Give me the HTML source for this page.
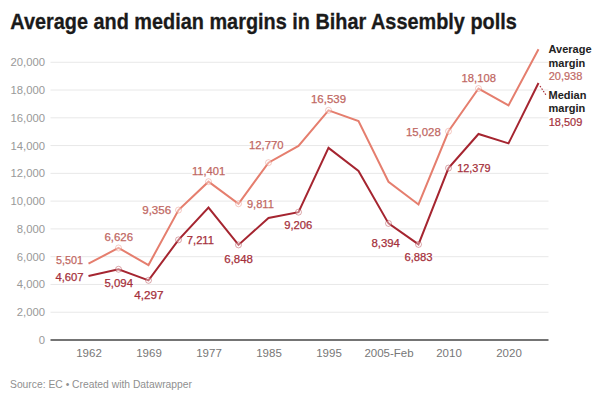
<!DOCTYPE html>
<html><head><meta charset="utf-8">
<style>
html,body{margin:0;padding:0;background:#fff;}
body{width:600px;height:401px;position:relative;overflow:hidden;}
svg{position:absolute;left:0;top:0;font-family:"Liberation Sans",sans-serif;}
.vl{paint-order:stroke;stroke:#fff;stroke-width:2px;stroke-linejoin:round;}
</style></head><body>
<svg width="600" height="401" viewBox="0 0 600 401">
<text x="10.3" y="28.7" font-size="21.5" font-weight="bold" fill="#1a1a1a" stroke="#1a1a1a" stroke-width="0.3" textLength="506.5" lengthAdjust="spacingAndGlyphs">Average and median margins in Bihar Assembly polls</text>
<line x1="50.5" x2="548.5" y1="312.23" y2="312.23" stroke="#e8e8e8" stroke-width="1"/>
<line x1="50.5" x2="548.5" y1="284.45" y2="284.45" stroke="#e8e8e8" stroke-width="1"/>
<line x1="50.5" x2="548.5" y1="256.68" y2="256.68" stroke="#e8e8e8" stroke-width="1"/>
<line x1="50.5" x2="548.5" y1="228.90" y2="228.90" stroke="#e8e8e8" stroke-width="1"/>
<line x1="50.5" x2="548.5" y1="201.12" y2="201.12" stroke="#e8e8e8" stroke-width="1"/>
<line x1="50.5" x2="548.5" y1="173.35" y2="173.35" stroke="#e8e8e8" stroke-width="1"/>
<line x1="50.5" x2="548.5" y1="145.57" y2="145.57" stroke="#e8e8e8" stroke-width="1"/>
<line x1="50.5" x2="548.5" y1="117.80" y2="117.80" stroke="#e8e8e8" stroke-width="1"/>
<line x1="50.5" x2="548.5" y1="90.02" y2="90.02" stroke="#e8e8e8" stroke-width="1"/>
<line x1="50.5" x2="548.5" y1="62.25" y2="62.25" stroke="#e8e8e8" stroke-width="1"/>
<text x="45" y="344.00" text-anchor="end" fill="#999" font-size="11.3">0</text>
<text x="45" y="316.23" text-anchor="end" fill="#999" font-size="11.3">2,000</text>
<text x="45" y="288.45" text-anchor="end" fill="#999" font-size="11.3">4,000</text>
<text x="45" y="260.68" text-anchor="end" fill="#999" font-size="11.3">6,000</text>
<text x="45" y="232.90" text-anchor="end" fill="#999" font-size="11.3">8,000</text>
<text x="45" y="205.12" text-anchor="end" fill="#999" font-size="11.3">10,000</text>
<text x="45" y="177.35" text-anchor="end" fill="#999" font-size="11.3">12,000</text>
<text x="45" y="149.57" text-anchor="end" fill="#999" font-size="11.3">14,000</text>
<text x="45" y="121.80" text-anchor="end" fill="#999" font-size="11.3">16,000</text>
<text x="45" y="94.02" text-anchor="end" fill="#999" font-size="11.3">18,000</text>
<text x="45" y="66.25" text-anchor="end" fill="#999" font-size="11.3">20,000</text>
<line x1="50.5" x2="548.5" y1="340" y2="340" stroke="#747474" stroke-width="2"/>
<text x="89.00" y="356.6" text-anchor="middle" fill="#777" font-size="11.5">1962</text>
<text x="149.00" y="356.6" text-anchor="middle" fill="#777" font-size="11.5">1969</text>
<text x="209.00" y="356.6" text-anchor="middle" fill="#777" font-size="11.5">1977</text>
<text x="269.00" y="356.6" text-anchor="middle" fill="#777" font-size="11.5">1985</text>
<text x="329.00" y="356.6" text-anchor="middle" fill="#777" font-size="11.5">1995</text>
<text x="389.00" y="356.6" text-anchor="middle" fill="#777" font-size="11.5">2005-Feb</text>
<text x="449.00" y="356.6" text-anchor="middle" fill="#777" font-size="11.5">2010</text>
<text x="509.00" y="356.6" text-anchor="middle" fill="#777" font-size="11.5">2020</text>
<polyline points="88.50,263.60 118.50,247.98 148.50,265.01 178.50,210.07 208.50,181.67 238.50,203.75 268.50,162.66 298.50,145.99 328.50,110.31 358.50,121.11 388.50,181.81 418.50,204.50 448.50,131.30 478.50,88.53 508.50,105.40 538.50,49.22" fill="none" stroke="#e57e6e" stroke-width="2" stroke-linejoin="miter"/>
<polyline points="88.50,276.02 118.50,269.26 148.50,280.33 178.50,239.86 208.50,207.65 238.50,244.90 268.50,218.00 298.50,212.15 328.50,147.89 358.50,171.00 388.50,223.43 418.50,244.41 448.50,168.09 478.50,134.01 508.50,143.39 538.50,82.96" fill="none" stroke="#a52530" stroke-width="2" stroke-linejoin="miter"/>
<circle cx="118.50" cy="247.98" r="3" fill="#fff" fill-opacity="0.35" stroke="#e57e6e" stroke-width="1" stroke-opacity="0.4"/>
<circle cx="178.50" cy="210.07" r="3" fill="#fff" fill-opacity="0.35" stroke="#e57e6e" stroke-width="1" stroke-opacity="0.4"/>
<circle cx="208.50" cy="181.67" r="3" fill="#fff" fill-opacity="0.35" stroke="#e57e6e" stroke-width="1" stroke-opacity="0.4"/>
<circle cx="238.50" cy="203.75" r="3" fill="#fff" fill-opacity="0.35" stroke="#e57e6e" stroke-width="1" stroke-opacity="0.4"/>
<circle cx="268.50" cy="162.66" r="3" fill="#fff" fill-opacity="0.35" stroke="#e57e6e" stroke-width="1" stroke-opacity="0.4"/>
<circle cx="328.50" cy="110.31" r="3" fill="#fff" fill-opacity="0.35" stroke="#e57e6e" stroke-width="1" stroke-opacity="0.4"/>
<circle cx="448.50" cy="131.30" r="3" fill="#fff" fill-opacity="0.35" stroke="#e57e6e" stroke-width="1" stroke-opacity="0.4"/>
<circle cx="478.50" cy="88.53" r="3" fill="#fff" fill-opacity="0.35" stroke="#e57e6e" stroke-width="1" stroke-opacity="0.4"/>
<circle cx="118.50" cy="269.26" r="3" fill="#fff" fill-opacity="0.35" stroke="#a52530" stroke-width="1" stroke-opacity="0.4"/>
<circle cx="148.50" cy="280.33" r="3" fill="#fff" fill-opacity="0.35" stroke="#a52530" stroke-width="1" stroke-opacity="0.4"/>
<circle cx="178.50" cy="239.86" r="3" fill="#fff" fill-opacity="0.35" stroke="#a52530" stroke-width="1" stroke-opacity="0.4"/>
<circle cx="238.50" cy="244.90" r="3" fill="#fff" fill-opacity="0.35" stroke="#a52530" stroke-width="1" stroke-opacity="0.4"/>
<circle cx="298.50" cy="212.15" r="3" fill="#fff" fill-opacity="0.35" stroke="#a52530" stroke-width="1" stroke-opacity="0.4"/>
<circle cx="388.50" cy="223.43" r="3" fill="#fff" fill-opacity="0.35" stroke="#a52530" stroke-width="1" stroke-opacity="0.4"/>
<circle cx="418.50" cy="244.41" r="3" fill="#fff" fill-opacity="0.35" stroke="#a52530" stroke-width="1" stroke-opacity="0.4"/>
<circle cx="448.50" cy="168.09" r="3" fill="#fff" fill-opacity="0.35" stroke="#a52530" stroke-width="1" stroke-opacity="0.4"/>
<text x="56.00" y="264.20" fill="#fff" stroke="#fff" stroke-width="2" font-size="11" textLength="27.10" lengthAdjust="spacingAndGlyphs">5,501</text>
<text x="56.00" y="264.20" fill="#bf6863" stroke="#bf6863" stroke-width="0.25" font-size="11" textLength="27.10" lengthAdjust="spacingAndGlyphs">5,501</text>
<text x="104.40" y="241.40" fill="#fff" stroke="#fff" stroke-width="2" font-size="11" textLength="28.60" lengthAdjust="spacingAndGlyphs">6,626</text>
<text x="104.40" y="241.40" fill="#bf6863" stroke="#bf6863" stroke-width="0.25" font-size="11" textLength="28.60" lengthAdjust="spacingAndGlyphs">6,626</text>
<text x="142.20" y="213.80" fill="#fff" stroke="#fff" stroke-width="2" font-size="11" textLength="29.00" lengthAdjust="spacingAndGlyphs">9,356</text>
<text x="142.20" y="213.80" fill="#bf6863" stroke="#bf6863" stroke-width="0.25" font-size="11" textLength="29.00" lengthAdjust="spacingAndGlyphs">9,356</text>
<text x="191.90" y="174.60" fill="#fff" stroke="#fff" stroke-width="2" font-size="11" textLength="33.40" lengthAdjust="spacingAndGlyphs">11,401</text>
<text x="191.90" y="174.60" fill="#bf6863" stroke="#bf6863" stroke-width="0.25" font-size="11" textLength="33.40" lengthAdjust="spacingAndGlyphs">11,401</text>
<text x="246.90" y="207.50" fill="#fff" stroke="#fff" stroke-width="2" font-size="11" textLength="27.00" lengthAdjust="spacingAndGlyphs">9,811</text>
<text x="246.90" y="207.50" fill="#bf6863" stroke="#bf6863" stroke-width="0.25" font-size="11" textLength="27.00" lengthAdjust="spacingAndGlyphs">9,811</text>
<text x="249.00" y="149.40" fill="#fff" stroke="#fff" stroke-width="2" font-size="11" textLength="34.60" lengthAdjust="spacingAndGlyphs">12,770</text>
<text x="249.00" y="149.40" fill="#bf6863" stroke="#bf6863" stroke-width="0.25" font-size="11" textLength="34.60" lengthAdjust="spacingAndGlyphs">12,770</text>
<text x="311.00" y="103.40" fill="#fff" stroke="#fff" stroke-width="2" font-size="11" textLength="35.00" lengthAdjust="spacingAndGlyphs">16,539</text>
<text x="311.00" y="103.40" fill="#bf6863" stroke="#bf6863" stroke-width="0.25" font-size="11" textLength="35.00" lengthAdjust="spacingAndGlyphs">16,539</text>
<text x="405.90" y="135.50" fill="#fff" stroke="#fff" stroke-width="2" font-size="11" textLength="34.90" lengthAdjust="spacingAndGlyphs">15,028</text>
<text x="405.90" y="135.50" fill="#bf6863" stroke="#bf6863" stroke-width="0.25" font-size="11" textLength="34.90" lengthAdjust="spacingAndGlyphs">15,028</text>
<text x="461.60" y="82.20" fill="#fff" stroke="#fff" stroke-width="2" font-size="11" textLength="34.30" lengthAdjust="spacingAndGlyphs">18,108</text>
<text x="461.60" y="82.20" fill="#bf6863" stroke="#bf6863" stroke-width="0.25" font-size="11" textLength="34.30" lengthAdjust="spacingAndGlyphs">18,108</text>
<text x="55.40" y="281.30" fill="#fff" stroke="#fff" stroke-width="2" font-size="11" textLength="28.20" lengthAdjust="spacingAndGlyphs">4,607</text>
<text x="55.40" y="281.30" fill="#a5303b" stroke="#a5303b" stroke-width="0.25" font-size="11" textLength="28.20" lengthAdjust="spacingAndGlyphs">4,607</text>
<text x="104.40" y="286.50" fill="#fff" stroke="#fff" stroke-width="2" font-size="11" textLength="28.60" lengthAdjust="spacingAndGlyphs">5,094</text>
<text x="104.40" y="286.50" fill="#a5303b" stroke="#a5303b" stroke-width="0.25" font-size="11" textLength="28.60" lengthAdjust="spacingAndGlyphs">5,094</text>
<text x="134.20" y="299.30" fill="#fff" stroke="#fff" stroke-width="2" font-size="11" textLength="29.30" lengthAdjust="spacingAndGlyphs">4,297</text>
<text x="134.20" y="299.30" fill="#a5303b" stroke="#a5303b" stroke-width="0.25" font-size="11" textLength="29.30" lengthAdjust="spacingAndGlyphs">4,297</text>
<text x="186.80" y="244.10" fill="#fff" stroke="#fff" stroke-width="2" font-size="11" textLength="27.20" lengthAdjust="spacingAndGlyphs">7,211</text>
<text x="186.80" y="244.10" fill="#a5303b" stroke="#a5303b" stroke-width="0.25" font-size="11" textLength="27.20" lengthAdjust="spacingAndGlyphs">7,211</text>
<text x="224.30" y="262.50" fill="#fff" stroke="#fff" stroke-width="2" font-size="11" textLength="28.70" lengthAdjust="spacingAndGlyphs">6,848</text>
<text x="224.30" y="262.50" fill="#a5303b" stroke="#a5303b" stroke-width="0.25" font-size="11" textLength="28.70" lengthAdjust="spacingAndGlyphs">6,848</text>
<text x="284.20" y="229.00" fill="#fff" stroke="#fff" stroke-width="2" font-size="11" textLength="28.20" lengthAdjust="spacingAndGlyphs">9,206</text>
<text x="284.20" y="229.00" fill="#a5303b" stroke="#a5303b" stroke-width="0.25" font-size="11" textLength="28.20" lengthAdjust="spacingAndGlyphs">9,206</text>
<text x="371.40" y="246.75" fill="#fff" stroke="#fff" stroke-width="2" font-size="11" textLength="28.50" lengthAdjust="spacingAndGlyphs">8,394</text>
<text x="371.40" y="246.75" fill="#a5303b" stroke="#a5303b" stroke-width="0.25" font-size="11" textLength="28.50" lengthAdjust="spacingAndGlyphs">8,394</text>
<text x="404.40" y="261.30" fill="#fff" stroke="#fff" stroke-width="2" font-size="11" textLength="28.20" lengthAdjust="spacingAndGlyphs">6,883</text>
<text x="404.40" y="261.30" fill="#a5303b" stroke="#a5303b" stroke-width="0.25" font-size="11" textLength="28.20" lengthAdjust="spacingAndGlyphs">6,883</text>
<text x="457.20" y="172.20" fill="#fff" stroke="#fff" stroke-width="2" font-size="11" textLength="33.40" lengthAdjust="spacingAndGlyphs">12,379</text>
<text x="457.20" y="172.20" fill="#a5303b" stroke="#a5303b" stroke-width="0.25" font-size="11" textLength="33.40" lengthAdjust="spacingAndGlyphs">12,379</text>
<line x1="540" y1="86" x2="546" y2="95" stroke="#a52530" stroke-width="1.2" stroke-dasharray="1.5,1.5"/>
<text x="548.5" y="53.1" font-size="11" font-weight="bold" fill="#222">Average</text><text x="548.5" y="66.6" font-size="11" font-weight="bold" fill="#222">margin</text><text x="548.7" y="80" font-size="11" fill="#bf6863" stroke="#bf6863" stroke-width="0.2">20,938</text>
<text x="548.5" y="99" font-size="11" font-weight="bold" fill="#222">Median</text><text x="548.5" y="111.9" font-size="11" font-weight="bold" fill="#222">margin</text><text x="548.7" y="125.6" font-size="11" fill="#a5303b" stroke="#a5303b" stroke-width="0.2">18,509</text>
<text x="10" y="388.3" font-size="10.5" fill="#8f8f8f" textLength="182" lengthAdjust="spacingAndGlyphs">Source: EC • Created with Datawrapper</text>
</svg>
</body></html>
